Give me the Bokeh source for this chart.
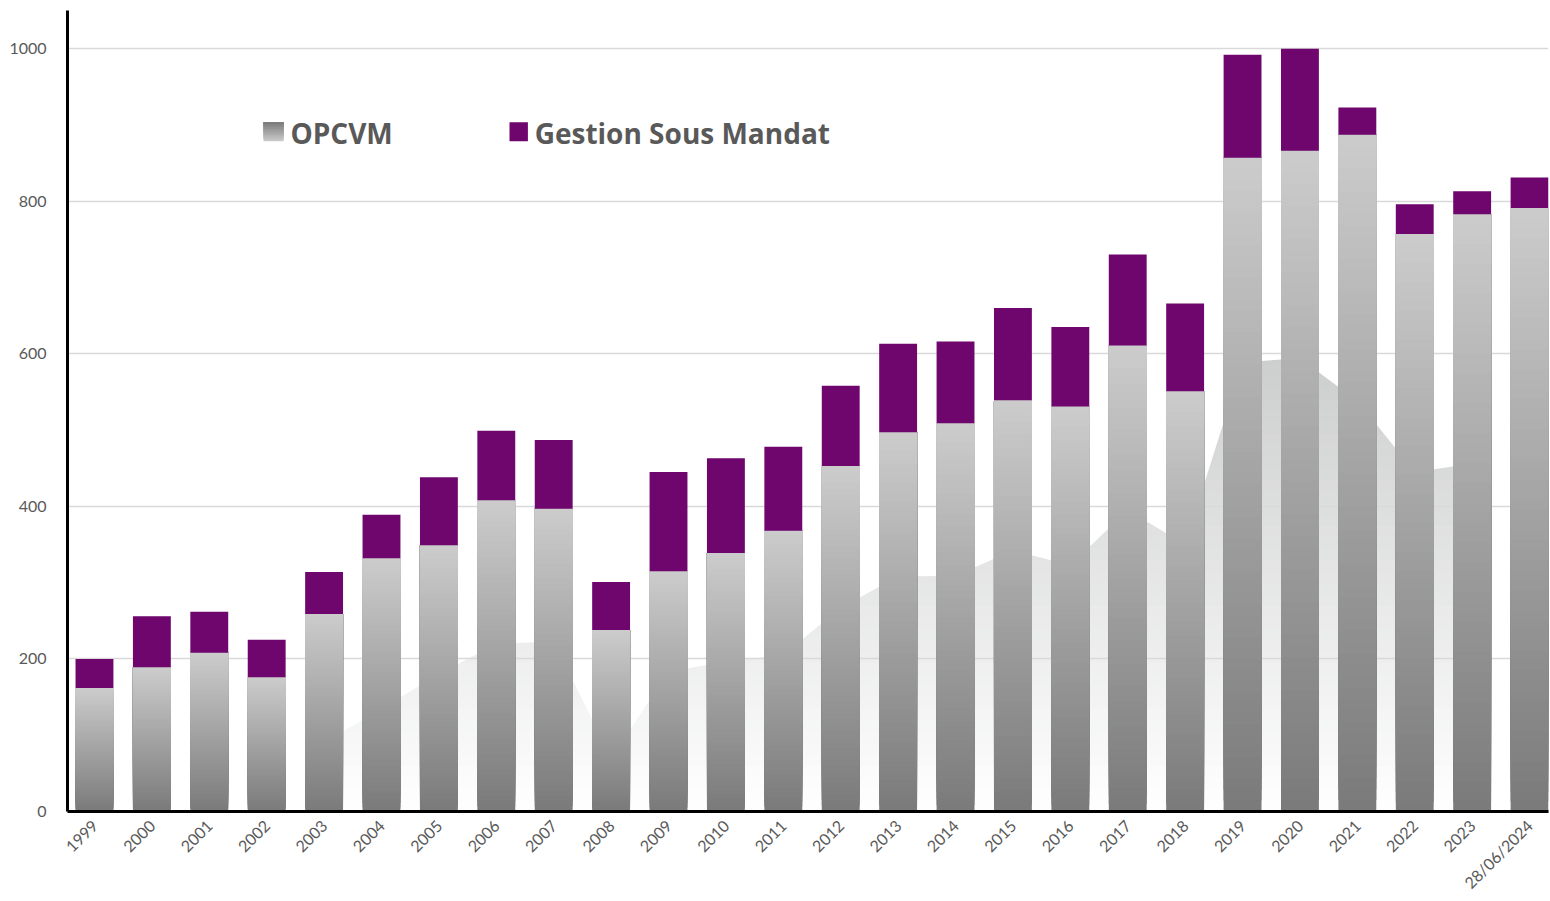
import numpy as np
from bokeh.plotting import figure
from bokeh.models import Range1d, FixedTicker, Label
from bokeh.embed import file_html
from bokeh.resources import INLINE

# ---------------- data ----------------
labels = ["1999", "2000", "2001", "2002", "2003", "2004", "2005", "2006", "2007",
          "2008", "2009", "2010", "2011", "2012", "2013", "2014", "2015", "2016",
          "2017", "2018", "2019", "2020", "2021", "2022", "2023", "28/06/2024"]
opcvm = [162, 189, 208, 176, 259, 332, 349, 408, 397, 238, 315, 339, 368,
         453, 497, 509, 539, 531, 611, 551, 857, 866, 887, 757, 783, 791]
gsm = [38, 67, 54, 49, 55, 57, 89, 91, 90, 63, 130, 124, 110,
       105, 116, 107, 121, 104, 119, 115, 135, 134, 36, 39, 30, 40]
# faint background area (decorative series), for 2003 .. 2023
bg_labels = ["2003", "2004", "2005", "2006", "2007", "2008", "2009", "2010",
             "2011", "2012", "2013", "2014", "2015", "2016", "2017", "2018",
             "2019", "2020", "2021", "2022", "2023"]
bg_values = [90, 135, 180, 220, 223, 70, 183, 197, 205, 267, 308, 309, 342,
             323, 395, 350, 589, 594, 538, 445, 456]
y_ticks = [0, 200, 400, 600, 800, 1000]
series_names = ["OPCVM", "Gestion Sous Mandat"]

# ---------------- style ----------------
PURPLE = "#6e066e"
TXT = "#595959"
BAR_BOTTOM = np.array([0x79, 0x7a, 0x79])
BAR_TOP = np.array([0xcb, 0xcc, 0xcb])
AREA_TOP = np.array([0xcc, 0xce, 0xcd])
WHITE = np.array([255, 255, 255])
W = 0.66


def mix(c0, c1, t):
    c = np.round(c0 + (c1 - c0) * t).astype(int)
    return "#%02x%02x%02x" % tuple(c)


x = np.arange(len(labels), dtype=float)
opc = np.array(opcvm, dtype=float)
gs = np.array(gsm, dtype=float)

p = figure(width=1550, height=901,
           x_range=Range1d(-0.47, len(labels) - 1 + W / 2),
           y_range=Range1d(0, 1050),
           output_backend="svg", toolbar_location=None,
           min_border_left=67, min_border_right=2,
           min_border_top=10, min_border_bottom=80)
p.outline_line_color = None
p.background_fill_color = "white"
p.border_fill_color = "white"

# ---------- background area with vertical gradient ----------
bx = np.array([labels.index(l) for l in bg_labels], dtype=float)
bv = np.array(bg_values, dtype=float)
amax = 600.0
NA = 40
for j in range(NA):
    a0 = amax * j / NA
    r = p.quad(left=[bx[0] + 0.08], right=[bx[-1] - 0.08], bottom=[a0], top=[amax],
               fill_color=mix(WHITE, AREA_TOP, (j + 0.5) / NA),
               line_color=None)
    r.level = "image"
# white mask above the curve -> gradient remains only under the curve
m = p.varea(x=bx, y1=bv, y2=np.full_like(bv, amax + 5), fill_color="white")
m.level = "image"

# ---------- OPCVM bars with per-bar vertical gradient ----------
NB = 60
for j in range(NB):
    col = mix(BAR_BOTTOM, BAR_TOP, (j + 0.5) / NB)
    p.quad(left=x - W / 2, right=x + W / 2,
           bottom=opc * j / NB, top=opc,
           fill_color=col, line_color=None)

# ---------- Gestion Sous Mandat ----------
p.vbar(x=x, width=W, bottom=opc, top=opc + gs,
       fill_color=PURPLE, line_color=None)

# ---------- legend (manual) ----------
sq_w = 20 / 57.4
sq_h = 19 / 0.764
lx0, ly0 = 2.945, 878.5
NL = 12
for j in range(NL):
    col = mix(BAR_BOTTOM, BAR_TOP, 1 - (j + 0.5) / NL)
    p.quad(left=[lx0], right=[lx0 + sq_w],
           bottom=[ly0 + sq_h * j / NL], top=[ly0 + sq_h],
           fill_color=col, line_color=None)
gx0 = 7.23
p.quad(left=[gx0], right=[gx0 + sq_w * 0.92], bottom=[ly0], top=[ly0 + sq_h],
       fill_color=PURPLE, line_color=None)
for name, xx in zip(series_names, [lx0 + sq_w + 0.12, gx0 + sq_w + 0.09]):
    p.add_layout(Label(x=xx, y=ly0 + sq_h / 2 - 1, text=name,
                       text_font="Open Sans", text_font_style="bold",
                       text_font_size="28px", text_color=TXT,
                       text_baseline="middle", text_align="left"))

# ---------- axes / grid ----------
p.xgrid.visible = False
p.ygrid.ticker = FixedTicker(ticks=y_ticks[1:])
p.ygrid.grid_line_color = "#d9d9d9"
p.ygrid.grid_line_width = 1.5
p.ygrid.level = "underlay"

p.yaxis.ticker = FixedTicker(ticks=y_ticks)
p.yaxis.axis_line_color = "black"
p.yaxis.axis_line_width = 3
p.yaxis.major_tick_line_color = None
p.yaxis.minor_tick_line_color = None
p.yaxis.major_label_text_font = "Lato"
p.yaxis.major_label_text_font_size = "16px"
p.yaxis.major_label_text_color = TXT
p.yaxis.major_label_standoff = 15

p.xaxis.ticker = FixedTicker(ticks=list(range(len(labels))))
p.xaxis.major_label_overrides = {i: l for i, l in enumerate(labels)}
p.xaxis.major_label_orientation = np.pi / 4
p.xaxis.axis_line_color = "black"
p.xaxis.axis_line_width = 3
p.xaxis.major_tick_line_color = None
p.xaxis.minor_tick_line_color = None
p.xaxis.major_label_text_font = "Lato"
p.xaxis.major_label_text_font_size = "16px"
p.xaxis.major_label_text_color = TXT
p.xaxis.major_label_standoff = 5

open("out.html", "w").write(file_html(p, INLINE))
